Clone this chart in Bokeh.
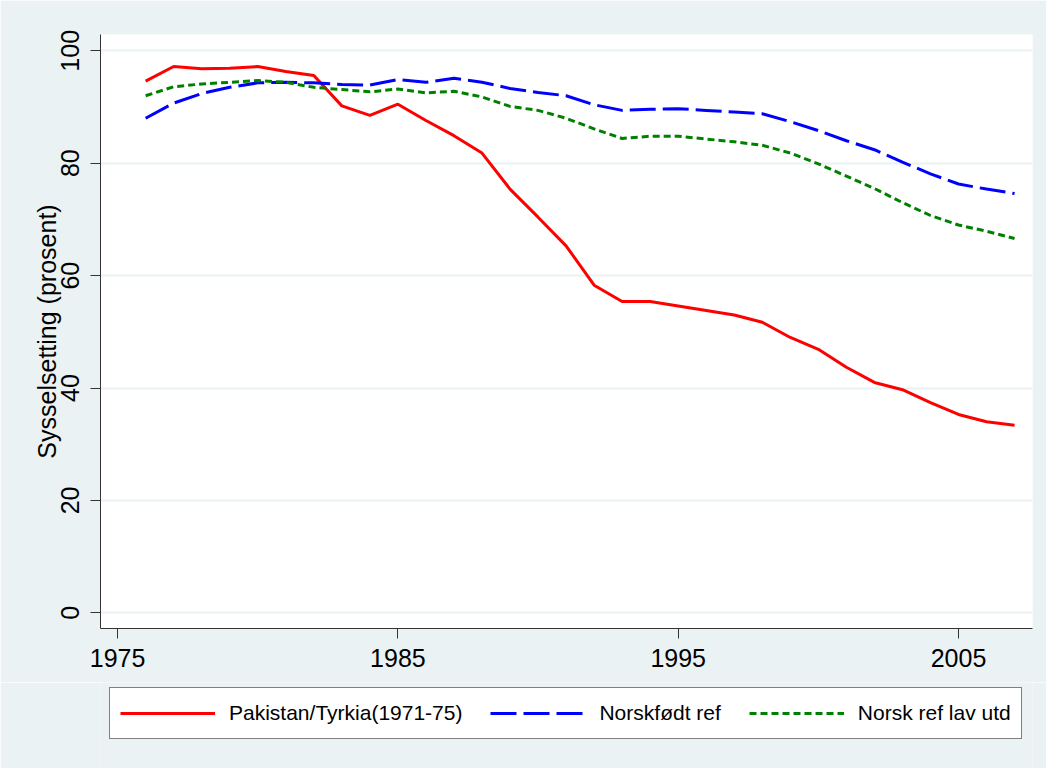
from bokeh.plotting import figure
from bokeh.models import Range1d, Legend, LegendItem, FixedTicker, ColumnDataSource
from bokeh.layouts import column
from bokeh.embed import file_html
from bokeh.resources import INLINE

years = list(range(1976, 2008))
pakistan_tyrkia = [94.6, 97.2, 96.8, 96.9, 97.2, 96.3, 95.6, 90.2, 88.5, 90.5, 87.6, 84.9,
                   81.8, 75.4, 70.4, 65.3, 58.3, 55.4, 55.4, 54.6, 53.8, 53.0, 51.7, 49.0,
                   46.9, 43.7, 41.0, 39.7, 37.4, 35.3, 34.0, 33.4]
norskfodt_ref = [88.0, 90.7, 92.4, 93.5, 94.3, 94.4, 94.3, 94.0, 93.9, 94.9, 94.4, 95.1,
                 94.4, 93.3, 92.6, 92.0, 90.4, 89.4, 89.6, 89.7, 89.4, 89.1, 88.8, 87.4,
                 85.8, 84.0, 82.4, 80.2, 78.1, 76.3, 75.4, 74.6]
norsk_ref_lav = [92.0, 93.6, 94.1, 94.4, 94.7, 94.4, 93.5, 93.1, 92.7, 93.2, 92.5, 92.8,
                 91.8, 90.1, 89.4, 88.0, 86.1, 84.4, 84.8, 84.8, 84.3, 83.8, 83.2, 81.8,
                 79.9, 77.7, 75.5, 73.0, 70.7, 69.0, 67.9, 66.6]
series_names = ["Pakistan/Tyrkia(1971-75)", "Norskfødt ref", "Norsk ref lav utd"]
x_ticks = [1975, 1985, 1995, 2005]
y_ticks = [0, 20, 40, 60, 80, 100]
y_title = "Sysselsetting (prosent)"

FONT = "Liberation Sans"
BG = "#EAF2F3"
COLORS = ["#FF0000", "#0000FF", "#008000"]
DASHES = ["solid", "26 7", "7 4"]
COLS = ["pak", "nor", "lav"]

source = ColumnDataSource(dict(year=years, pak=pakistan_tyrkia, nor=norskfodt_ref, lav=norsk_ref_lav))

p = figure(width=1046, height=682, output_backend="svg", toolbar_location=None,
           x_range=Range1d(1974.39, 2007.64), y_range=Range1d(-2.78, 102.9),
           background_fill_color="white", border_fill_color=BG,
           min_border_left=100, min_border_right=14, min_border_top=34, min_border_bottom=54)
p.outline_line_color = None

for col, c, d in zip(COLS, COLORS, DASHES):
    p.line("year", col, source=source, line_color=c, line_width=3, line_dash=d)

p.xgrid.visible = False
p.ygrid.grid_line_color = BG
p.ygrid.grid_line_width = 2
p.ygrid.ticker = FixedTicker(ticks=y_ticks)

p.xaxis.ticker = FixedTicker(ticks=x_ticks)
p.yaxis.ticker = FixedTicker(ticks=y_ticks)
for ax in (p.xaxis[0], p.yaxis[0]):
    ax.axis_line_color = "#333333"
    ax.axis_line_width = 1
    ax.major_tick_line_color = "#333333"
    ax.major_tick_out = 10
    ax.major_tick_in = 0
    ax.minor_tick_line_color = None
    ax.major_label_text_font = FONT
    ax.major_label_text_font_size = "25px"
    ax.major_label_text_color = "black"

p.xaxis.major_label_standoff = 10
p.yaxis.major_label_orientation = "vertical"
p.yaxis.major_label_standoff = 11
p.yaxis.axis_label = y_title
p.yaxis.axis_label_text_font = FONT
p.yaxis.axis_label_text_font_size = "25px"
p.yaxis.axis_label_text_font_style = "normal"
p.yaxis.axis_label_text_color = "black"
p.yaxis.axis_label_standoff = -2

# legend strip below the chart (same left/right borders so frames line up);
# the key renderers use the same data but lie outside this strip's visible range
q = figure(width=1046, height=86, output_backend="svg", toolbar_location=None,
           x_range=Range1d(0, 1), y_range=Range1d(0, 1),
           x_axis_location=None, y_axis_location=None,
           background_fill_color=BG, border_fill_color=BG,
           min_border_left=100, min_border_right=14, min_border_top=0, min_border_bottom=0)
q.outline_line_color = None
q.grid.visible = False
keys = [q.line("year", col, source=source, line_color=c, line_width=3, line_dash=d)
        for col, c, d in zip(COLS, COLORS, DASHES)]

legend = Legend(items=[LegendItem(label=n, renderers=[r]) for n, r in zip(series_names, keys)],
                orientation="horizontal", location=(9, 29),
                glyph_width=95, glyph_height=30, label_height=30, label_standoff=14,
                spacing=28, padding=10, margin=0,
                border_line_color="black", border_line_width=1,
                background_fill_color="white", background_fill_alpha=1.0,
                label_text_font=FONT, label_text_font_size="21px", label_text_color="black")
q.add_layout(legend, "center")

layout = column(p, q, spacing=0)
open("out.html", "w").write(file_html(layout, INLINE))
